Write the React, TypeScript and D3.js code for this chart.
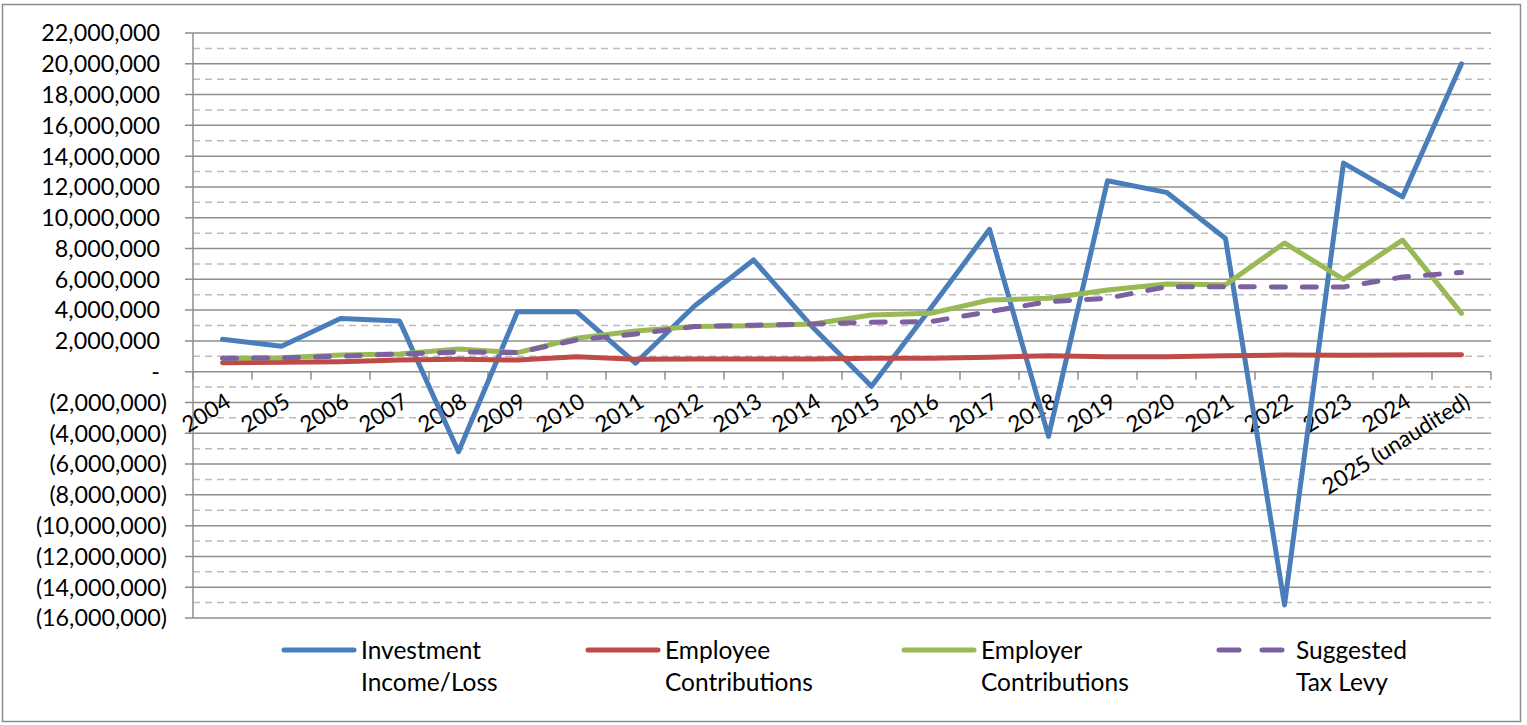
import React from 'react';
import * as d3 from 'd3';

const years = ['2004','2005','2006','2007','2008','2009','2010','2011','2012','2013','2014','2015','2016','2017','2018','2019','2020','2021','2022','2023','2024','2025 (unaudited)'];

const investmentIncome = [2100000,1650000,3450000,3300000,-5200000,3900000,3900000,550000,4270000,7260000,2900000,-950000,4100000,9250000,-4200000,12400000,11650000,8650000,-15150000,13550000,11350000,20000000];
const employeeContrib = [580000,620000,650000,760000,800000,760000,970000,800000,820000,820000,830000,870000,870000,930000,1040000,970000,970000,1040000,1080000,1060000,1080000,1100000];
const employerContrib = [870000,900000,1080000,1150000,1470000,1240000,2170000,2640000,2930000,2990000,3100000,3680000,3790000,4660000,4770000,5300000,5700000,5650000,8360000,6000000,8550000,3790000];
const suggestedTaxLevy = [870000,900000,1000000,1150000,1280000,1240000,2060000,2450000,2930000,3020000,3100000,3210000,3250000,3900000,4550000,4770000,5520000,5520000,5500000,5500000,6150000,6450000];

const majorTicks = [-16000000,-14000000,-12000000,-10000000,-8000000,-6000000,-4000000,-2000000,0,2000000,4000000,6000000,8000000,10000000,12000000,14000000,16000000,18000000,20000000,22000000];
const minorTicks = [-15000000,-13000000,-11000000,-9000000,-7000000,-5000000,-3000000,-1000000,1000000,3000000,5000000,7000000,9000000,11000000,13000000,15000000,17000000,19000000,21000000];

const seriesNames = [['Investment', 'Income/Loss'], ['Employee', 'Contributions'], ['Employer', 'Contributions'], ['Suggested', 'Tax Levy']];
const seriesColors = ['#4A7EBB', '#BE4B48', '#98B954', '#7D60A0'];

const FONT = 'Lato, "Open Sans", sans-serif';

export default function App() {
  if (typeof document !== 'undefined') document.body.style.margin = '0';
  const W = 1527, H = 725;
  const left = 193, right = 1491, top = 33, bottom = 618;
  const x = d3.scaleBand<string>().domain(years).range([left, right]).paddingInner(0).paddingOuter(0);
  const bw = x.bandwidth();
  const cx = (d: string) => (x(d) as number) + bw / 2;
  const y = d3.scaleLinear().domain([-16000000, 22000000]).range([bottom, top]);
  const fmt = d3.format(',.0f');
  const label = (v: number) => (v === 0 ? '-' : v < 0 ? `(${fmt(-v)})` : fmt(v));

  const allSeries = [investmentIncome, employeeContrib, employerContrib, suggestedTaxLevy];
  const line = d3.line<number>().x((_, i) => cx(years[i])).y((v) => y(v));

  const legendX = [284, 588, 904, 1219];
  const legendY = 650;

  return (
    <svg width={W} height={H} style={{ display: 'block' }} fontFamily={FONT}>
      <rect x={2.5} y={4.5} width={1518} height={717} fill="#fff" stroke="#8C8C8C" strokeWidth={1.5} />
      {minorTicks.map((t) => (
        <line key={'mi' + t} x1={left} x2={right} y1={y(t)} y2={y(t)} stroke="#BDBDBD" strokeWidth={1.5} strokeDasharray="7,5" />
      ))}
      {majorTicks.map((t) => (
        <line key={'ma' + t} x1={left - 8} x2={right} y1={y(t)} y2={y(t)} stroke="#8E8E8E" strokeWidth={1.5} />
      ))}
      <line x1={left} x2={left} y1={top} y2={bottom} stroke="#8E8E8E" strokeWidth={1.5} />
      {d3.range(years.length + 1).map((i) => (
        <line key={'xt' + i} x1={left + i * bw} x2={left + i * bw} y1={y(0)} y2={y(0) + 8} stroke="#8E8E8E" strokeWidth={1.5} />
      ))}
      {majorTicks.map((t) => (
        <text key={'yl' + t} x={t < 0 ? 167 : 160} y={y(t)} dy="0.36em" textAnchor="end" fontSize={23.3} fill="#000">
          {label(t)}
        </text>
      ))}
      {years.map((yr) => (
        <text key={'xl' + yr} transform={`translate(${cx(yr) + 10},${y(0) + 34}) rotate(-32)`} textAnchor="end" fontSize={22.5} fill="#000">
          {yr}
        </text>
      ))}
      {allSeries.map((s, i) => (
        <path key={'s' + i} d={line(s) as string} fill="none" stroke={seriesColors[i]} strokeWidth={5}
          strokeLinejoin="round" strokeLinecap="round" strokeDasharray={i === 3 ? '14,17' : undefined} />
      ))}
      {seriesNames.map((nm, i) => (
        <g key={'lg' + i}>
          <line x1={legendX[i]} x2={legendX[i] + 70} y1={legendY} y2={legendY} stroke={seriesColors[i]} strokeWidth={5}
            strokeLinecap="round" strokeDasharray={i === 3 ? '20,23' : undefined} />
          <text x={legendX[i] + 77} y={legendY + 8.5} fontSize={24.5} fill="#000">{nm[0]}</text>
          <text x={legendX[i] + 77} y={legendY + 41} fontSize={24.5} fill="#000">{nm[1]}</text>
        </g>
      ))}
    </svg>
  );
}
